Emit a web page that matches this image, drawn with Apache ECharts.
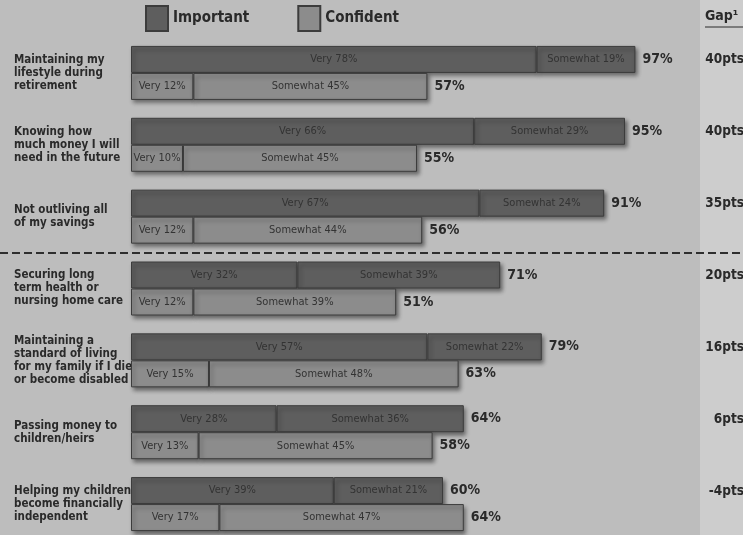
<!DOCTYPE html>
<html><head><meta charset="utf-8">
<script src="https://cdn.jsdelivr.net/npm/echarts@6/dist/echarts.min.js"></script>
<style>html,body{margin:0;padding:0;background:#bdbdbd}#c{width:743px;height:535px}</style>
</head><body><div id="c"></div>
<script>
const categories = [
  'Maintaining my\nlifestyle during\nretirement',
  'Knowing how\nmuch money I will\nneed in the future',
  'Not outliving all\nof my savings',
  'Securing long\nterm health or\nnursing home care',
  'Maintaining a\nstandard of living\nfor my family if I die\nor become disabled',
  'Passing money to\nchildren/heirs',
  'Helping my children\nbecome financially\nindependent'
];
const importantVery = [78, 66, 67, 32, 57, 28, 39];
const importantSomewhat = [19, 29, 24, 39, 22, 36, 21];
const importantTotal = [97, 95, 91, 71, 79, 64, 60];
const confidentVery = [12, 10, 12, 12, 15, 13, 17];
const confidentSomewhat = [45, 45, 44, 39, 48, 45, 47];
const confidentTotal = [57, 55, 56, 51, 63, 58, 64];
const gapLabels = ['40pts', '40pts', '35pts', '20pts', '16pts', '6pts', '-4pts'];

const F = "'Liberation Sans Narrow','DejaVu Sans Condensed','Roboto Condensed',sans-serif";
const IMP = '#5e5e5e', CONF = '#8c8c8c';
const shadow = {shadowBlur: 4, shadowOffsetX: 2, shadowOffsetY: 3, shadowColor: 'rgba(0,0,0,0.45)'};

function seg(name, stack, data, color, prefix) {
  return {
    name: name, type: 'bar', stack: stack, data: data,
    barWidth: 27, barGap: '0%',
    itemStyle: Object.assign({color: color, borderColor: '#3c3c3c', borderWidth: 1}, shadow),
    label: {show: true, position: 'inside', fontFamily: F, fontSize: 11, color: '#333333',
      formatter: p => prefix + ' ' + p.value + '%'},
    emphasis: {disabled: true}, silent: true
  };
}
function tot(name, stack, totals) {
  return {
    name: name, type: 'bar', stack: stack, data: totals.map(() => 0),
    barWidth: 27, barGap: '0%', itemStyle: {color: 'transparent'},
    label: {show: true, position: 'right', distance: 7, fontFamily: F, fontWeight: 'bold', fontSize: 14, color: '#2a2a2a',
      formatter: p => totals[p.dataIndex] + '%'},
    silent: true
  };
}

const chart = echarts.init(document.getElementById('c'));
chart.setOption({
  backgroundColor: '#bdbdbd',
  animation: false,
  legend: {
    data: ['Important', 'Confident'], left: 140, top: 0, itemWidth: 22, itemHeight: 25, itemGap: 48,
    icon: 'rect', textStyle: {fontFamily: F, fontWeight: 'bold', fontSize: 15, color: '#2a2a2a'},
    selectedMode: false
  },
  grid: {left: 131, right: 92, top: 37, height: 503, containLabel: false, outerBoundsMode: 'none'},
  xAxis: {type: 'value', min: 0, max: 100, show: false},
  yAxis: [{
    type: 'category', data: categories, inverse: true,
    axisLine: {show: false}, axisTick: {show: false}, splitLine: {show: false},
    axisLabel: {align: 'left', margin: 117, fontFamily: F, fontWeight: 'bold', fontSize: 11.5, lineHeight: 13, color: '#2a2a2a'}
  }, {
    type: 'category', data: gapLabels, inverse: true, position: 'right',
    axisLine: {show: false}, axisTick: {show: false}, splitLine: {show: false},
    axisLabel: {align: 'right', margin: 93, lineHeight: 26, fontFamily: F, fontWeight: 'bold', fontSize: 13.5, color: '#2a2a2a',
      formatter: v => v + '\n '}
  }],
  graphic: [
    {type: 'rect', z: -10, shape: {x: 700, y: 0, width: 43, height: 535}, style: {fill: '#cdcdcd'}},
    {type: 'line', shape: {x1: 0, y1: 253, x2: 743, y2: 253}, style: {stroke: '#2e2e2e', lineWidth: 2, lineDash: [8, 4]}},
    {type: 'text', left: 705, top: 9, style: {text: 'Gap\u00b9', fontFamily: F, fontWeight: 'bold', fontSize: 14, fill: '#2a2a2a'}},
    {type: 'line', shape: {x1: 705, y1: 27, x2: 743, y2: 27}, style: {stroke: '#2a2a2a', lineWidth: 1}}
  ],
  series: [
    seg('Important', 'imp', importantVery, IMP, 'Very'),
    seg('Important', 'imp', importantSomewhat, IMP, 'Somewhat'),
    tot('impTotal', 'imp', importantTotal),
    seg('Confident', 'conf', confidentVery, CONF, 'Very'),
    seg('Confident', 'conf', confidentSomewhat, CONF, 'Somewhat'),
    tot('confTotal', 'conf', confidentTotal)
  ]
});
</script></body></html>
